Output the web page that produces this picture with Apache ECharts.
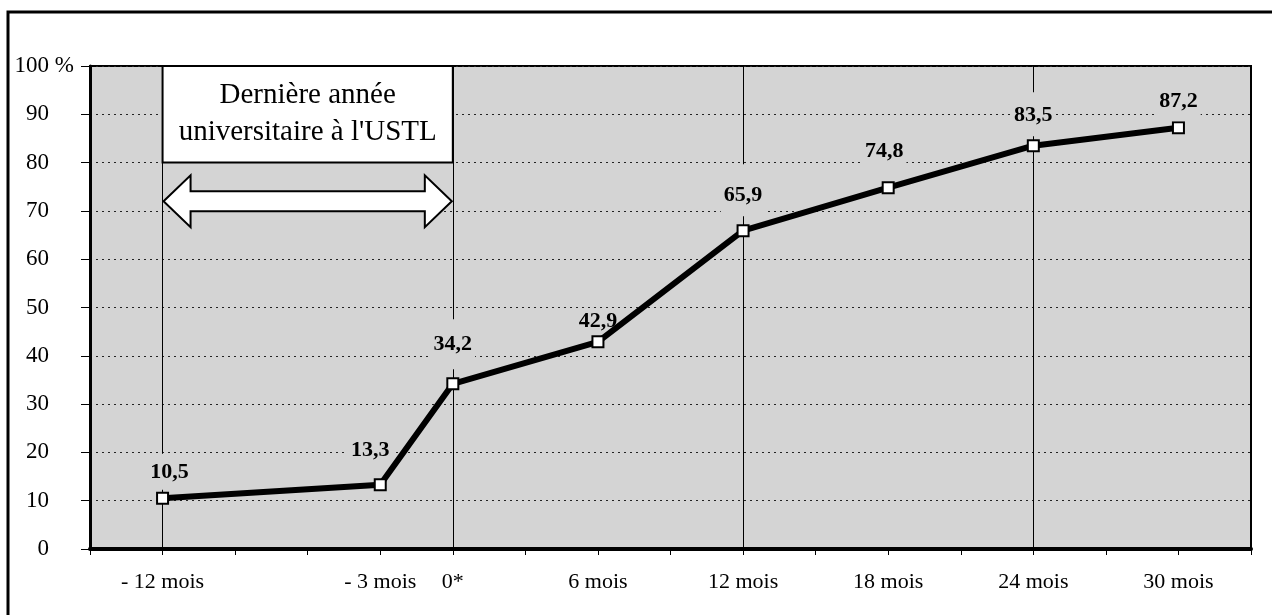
<!DOCTYPE html>
<html>
<head>
<meta charset="utf-8">
<script src="https://cdn.jsdelivr.net/npm/echarts@6/dist/echarts.min.js"></script>
<style>
html,body{margin:0;padding:0;background:#fff;}
#chart{width:1272px;height:615px;}
</style>
</head>
<body>
<div id="chart"></div>
<script>
// ---- data ----
const months = [-12, -3, 0, 6, 12, 18, 24, 30];
const rates = [10.5, 13.3, 34.2, 42.9, 65.9, 74.8, 83.5, 87.2];
const rateLabels = ['10,5', '13,3', '34,2', '42,9', '65,9', '74,8', '83,5', '87,2'];
const tickLabels = {'-12': '- 12 mois', '-3': '- 3 mois', '0': '0*', '6': '6 mois', '12': '12 mois', '18': '18 mois', '24': '24 mois', '30': '30 mois'};
const refMonths = [-12, 0, 12, 24];
const boxText = 'Dernière année\nuniversitaire à l\'USTL';
const yTicks = [0, 10, 20, 30, 40, 50, 60, 70, 80, 90, 100];

// ---- label styling (separate from data) ----
const labelRise = [25, 34, 39, 20, 35, 36, 30, 26];
const padTop = [8, 8, 14, 4, 20, 8, 12, 8];
const padBottom = [6, 0, 14, 0, 10, 8, 10, 9];
const shiftX = [7, -10, 0, 0, 0, -4, 0, 0];

const FONT = "'Liberation Serif','Times New Roman',serif";
const BG = '#d4d4d4';

const chart = echarts.init(document.getElementById('chart'));

const seriesData = months.map((m, i) => ({
  value: [m, rates[i]],
  label: {
    formatter: rateLabels[i],
    distance: labelRise[i] - 17 - padBottom[i],
    padding: [padTop[i], 3, padBottom[i], 3],
    offset: [shiftX[i], 0],
    backgroundColor: i === 3 ? 'transparent' : BG
  }
}));

const option = {
  animation: false,
  backgroundColor: '#fff',
  grid: {
    left: 90, right: 21, top: 66, bottom: 66,
    show: true, backgroundColor: BG, borderColor: '#000', borderWidth: 2
  },
  xAxis: {
    type: 'value', min: -15, max: 33, interval: 3,
    axisLine: {onZero: false, lineStyle: {color: '#000', width: 4}},
    axisTick: {show: true, length: 6, lineStyle: {color: '#000', width: 1}},
    splitLine: {show: false},
    axisLabel: {
      margin: 22, color: '#000', fontFamily: FONT, fontSize: 22,
      formatter: v => tickLabels[String(v)] || ''
    }
  },
  yAxis: {
    type: 'value', min: 0, max: 100, interval: 10,
    axisLine: {show: true, onZero: false, lineStyle: {color: '#000', width: 3}},
    axisTick: {show: true, length: 9, lineStyle: {color: '#000', width: 1}},
    splitLine: {show: true, lineStyle: {color: '#222', width: 1, type: [2, 4]}},
    axisLabel: {
      margin: 16, color: '#000', fontFamily: FONT, fontSize: 23,
      formatter: v => v === 100 ? '100 %' : (v + '{h| %}'),
      rich: {h: {color: 'transparent', fontFamily: FONT, fontSize: 23}}
    }
  },
  series: [
    {
      type: 'line', z: 1, data: [], symbol: 'none', silent: true,
      markLine: {
        z: 1, silent: true, symbol: 'none', animation: false,
        label: {show: false},
        lineStyle: {color: '#000', width: 1, type: 'solid'},
        data: refMonths.map(m => ({xAxis: m}))
      },
      markArea: {
        z: 2, silent: true,
        itemStyle: {color: '#fff', borderColor: '#000', borderWidth: 2},
        label: {
          show: true, position: 'inside', color: '#000',
          fontFamily: FONT, fontSize: 29, lineHeight: 37, padding: [4, 0, 0, 0],
          formatter: boxText
        },
        data: [[{coord: [refMonths[0], 80]}, {coord: [refMonths[1], 100]}]]
      }
    },
    {
      type: 'line', z: 3,
      data: seriesData,
      symbol: 'rect', symbolSize: 11,
      itemStyle: {color: '#fff', borderColor: '#000', borderWidth: 2},
      lineStyle: {color: '#000', width: 6},
      label: {
        show: true, position: 'top', color: '#000',
        fontFamily: FONT, fontSize: 22, fontWeight: 'bold', lineHeight: 22
      }
    }
  ]
};
chart.setOption(option);

// double-headed block arrow spanning the last university year
const pL = chart.convertToPixel({gridIndex: 0}, [refMonths[0], 72]);
const pR = chart.convertToPixel({gridIndex: 0}, [refMonths[1], 72]);
const cy = pL[1], xl = pL[0] + 1, xr = pR[0] - 1;
const sh = 10, hh = 26, hl = 27;
chart.setOption({
  graphic: [
    {
      type: 'polygon', z: 100,
      shape: {points: [
        [xl, cy], [xl + hl, cy - hh], [xl + hl, cy - sh], [xr - hl, cy - sh], [xr - hl, cy - hh],
        [xr, cy], [xr - hl, cy + hh], [xr - hl, cy + sh], [xl + hl, cy + sh], [xl + hl, cy + hh]
      ]},
      style: {fill: '#fff', stroke: '#000', lineWidth: 2}
    },
    {
      type: 'rect', z: 100, silent: true,
      shape: {x: 8, y: 12, width: 1300, height: 700},
      style: {fill: 'none', stroke: '#000', lineWidth: 3}
    }
  ]
});
</script>
</body>
</html>
